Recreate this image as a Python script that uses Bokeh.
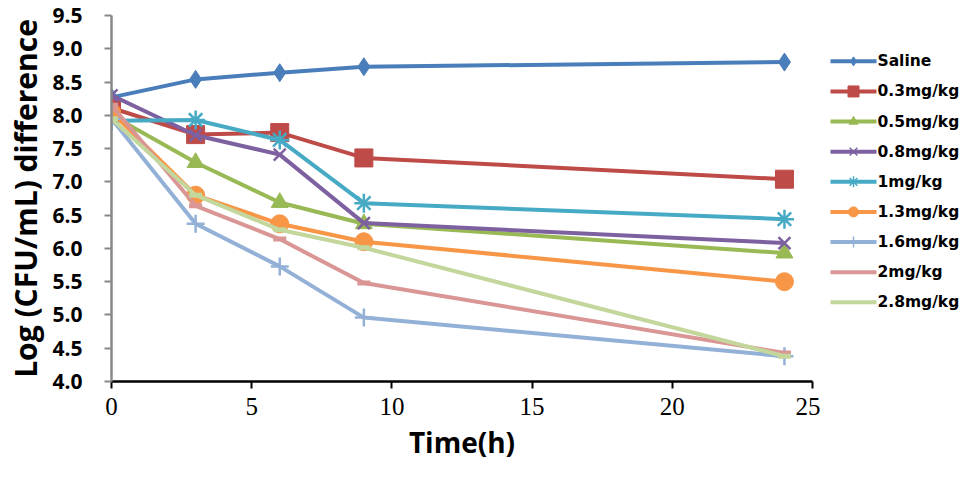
from bokeh.plotting import figure
from bokeh.layouts import row
from bokeh.models import Range1d, FixedTicker, CustomJSTickFormatter
from bokeh.core.properties import value
from bokeh.embed import file_html
from bokeh.resources import INLINE

time_h = [0, 3, 6, 9, 24]
series_names = ["Saline", "0.3mg/kg", "0.5mg/kg", "0.8mg/kg", "1mg/kg",
                "1.3mg/kg", "1.6mg/kg", "2mg/kg", "2.8mg/kg"]
saline = [8.27, 8.54, 8.64, 8.73, 8.80]
d03 = [8.11, 7.71, 7.74, 7.36, 7.04]
d05 = [8.00, 7.29, 6.69, 6.37, 5.93]
d08 = [8.30, 7.70, 7.41, 6.38, 6.08]
d1 = [7.92, 7.93, 7.63, 6.68, 6.44]
d13 = [8.05, 6.80, 6.37, 6.10, 5.50]
d16 = [7.95, 6.37, 5.73, 4.96, 4.38]
d2 = [8.15, 6.64, 6.14, 5.48, 4.43]
d28 = [7.95, 6.80, 6.28, 6.01, 4.38]
series_values = [saline, d03, d05, d08, d1, d13, d16, d2, d28]
x_ticks = [0, 5, 10, 15, 20, 25]
y_ticks = [4.0, 4.5, 5.0, 5.5, 6.0, 6.5, 7.0, 7.5, 8.0, 8.5, 9.0, 9.5]

colors = ["#4a7ebb", "#be4b48", "#98b954", "#7d60a0", "#46aac5",
          "#f79646", "#93b1d6", "#d99694", "#c3d69b"]
markers = ["diamond", "square", "triangle", "x", "asterisk",
           "circle", "cross", "dash", "dash"]
msizes = [18, 18, 17, 17, 19, 18, 18, 13, 13]
legend_msizes = [9, 11, 9, 11, 11, 10, 11, 8, 8]

H = 463
p = figure(width=820, height=H, output_backend="svg", toolbar_location=None,
           x_range=Range1d(0, 25), y_range=Range1d(4.0, 9.5),
           min_border_left=111, min_border_right=8, min_border_top=15,
           min_border_bottom=80)
p.outline_line_color = None
p.xgrid.visible = False
p.ygrid.visible = False

for name, vals, c, m, s in zip(series_names, series_values, colors, markers, msizes):
    p.line(time_h, vals, line_color=c, line_width=4)
    p.scatter(time_h, vals, marker=m, size=s, fill_color=c, line_color=c,
              line_width=2.5 if m in ("x", "asterisk", "cross") else (5 if m == "dash" else 1))

xa = p.xaxis[0]
xa.ticker = FixedTicker(ticks=x_ticks)
xa.axis_line_color = "#000000"
xa.axis_line_width = 2.5
xa.major_tick_line_color = "#000000"
xa.major_tick_line_width = 2
xa.major_tick_out = 7
xa.major_tick_in = 0
xa.minor_tick_line_color = None
xa.major_label_text_font = "Liberation Serif"
xa.major_label_text_font_size = "25px"
xa.major_label_text_color = "#000000"
xa.major_label_standoff = 9
xa.axis_label = "Time(h)"
xa.axis_label_text_font = "Open Sans"
xa.axis_label_text_font_style = "bold"
xa.axis_label_text_font_size = "28px"
xa.axis_label_text_color = "#000000"
xa.axis_label_standoff = 5

ya = p.yaxis[0]
ya.ticker = FixedTicker(ticks=y_ticks)
ya.axis_line_color = "#888888"
ya.axis_line_width = 2.5
ya.major_tick_line_color = "#888888"
ya.major_tick_line_width = 2
ya.major_tick_out = 7
ya.major_tick_in = 0
ya.minor_tick_line_color = None
ya.major_label_text_font = "Open Sans"
ya.major_label_text_font_style = "bold"
ya.major_label_text_font_size = "21px"
ya.major_label_text_color = "#000000"
ya.major_label_standoff = 22
ya.formatter = CustomJSTickFormatter(code="return tick.toFixed(1);")
ya.axis_label = "Log (CFU/mL) difference"
ya.axis_label_text_font = "Open Sans"
ya.axis_label_text_font_style = "bold"
ya.axis_label_text_font_size = "30px"
ya.axis_label_text_color = "#000000"
ya.axis_label_standoff = 3

# legend panel (screen-pixel coordinates, y measured from top)
LW = 139
lg = figure(width=LW, height=H, output_backend="svg", toolbar_location=None,
            x_range=Range1d(0, LW), y_range=Range1d(H, 0),
            min_border=0)
lg.outline_line_color = None
lg.axis.visible = False
lg.grid.visible = False
row_y0 = 58
row_dy = 38.1
for i, (name, c, m, s) in enumerate(zip(series_names, colors, markers, legend_msizes)):
    yy = row_y0 + row_dy * i
    lg.line([10, 56], [yy, yy], line_color=c, line_width=4)
    lg.scatter([33], [yy], marker=m, size=s, fill_color=c, line_color=c,
               line_width=1.5 if m in ("x", "asterisk", "cross", "dash") else 1)
    lg.text([57], [yy], text=[name], text_font=value("DejaVu Sans"),
            text_font_style="bold", text_font_size="15.5px", text_color="#000000",
            text_baseline="middle", text_align="left")

layout = row(p, lg, spacing=0)
open("out.html", "w").write(file_html(layout, INLINE))
